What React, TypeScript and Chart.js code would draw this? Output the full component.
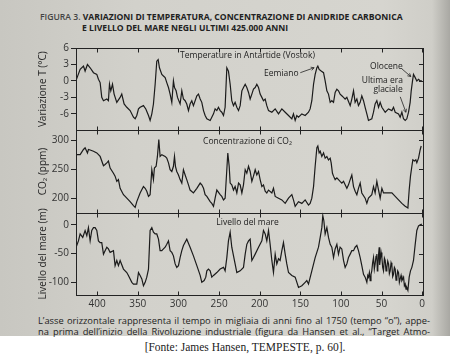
import React, { useEffect, useRef } from "react";
import { Chart, registerables } from "chart.js";
Chart.register(...registerables);

// ---- data (thousands of years before 1750) ----
const xTickValues = [400, 350, 300, 250, 200, 150, 100, 50, 0];
const tempTicks = [-6, -3, 0, 3, 6];
const co2Ticks = [200, 250, 300];
const seaTicks = [-100, -50, 0];

const tempYears = [425.9, 420.9, 416.8, 414.8, 411.9, 408.6, 404.5, 400.4, 398.4, 396.3, 394.3, 392.2, 388.1, 386.1, 384.8, 383.2, 381.1, 379.1, 375.8, 371.7, 369.7, 366.8, 363.5, 359.4, 355.3, 353.2, 351.2, 349.1, 347.1, 343.0, 340.1, 336.8, 334.8, 332.7, 330.7, 328.6, 326.6, 324.9, 323.3, 320.4, 318.4, 316.3, 314.3, 312.2, 310.2, 308.1, 306.1, 304.8, 302.8, 301.1, 297.9, 295.8, 293.8, 291.7, 289.7, 287.6, 285.6, 283.5, 281.5, 277.3, 275.3, 273.2, 271.2, 269.1, 267.1, 265.0, 260.9, 258.9, 256.8, 254.8, 252.7, 250.7, 248.6, 246.6, 244.5, 242.5, 240.4, 238.4, 236.3, 234.3, 232.2, 230.2, 228.1, 226.0, 224.0, 221.9, 219.9, 217.8, 215.8, 213.7, 211.7, 209.6, 207.6, 205.5, 203.5, 201.4, 199.4, 197.3, 195.3, 193.2, 191.2, 189.1, 185.0, 180.9, 176.8, 172.7, 168.6, 164.5, 160.4, 158.4, 156.3, 154.3, 152.2, 148.1, 144.0, 139.9, 137.9, 135.8, 133.7, 131.7, 129.6, 128.4, 126.8, 124.3, 121.4, 119.4, 117.3, 115.3, 113.2, 111.2, 109.1, 107.1, 105.0, 103.0, 101.0, 98.9, 96.8, 94.8, 92.7, 88.6, 86.6, 84.5, 82.5, 80.4, 78.4, 76.3, 74.3, 72.2, 70.2, 68.1, 66.1, 62.0, 59.9, 57.9, 55.8, 53.7, 51.7, 49.6, 45.5, 41.4, 37.3, 35.3, 33.2, 29.1, 27.1, 25.0, 23.0, 20.9, 18.9, 16.8, 14.8, 13.5, 11.9, 10.7, 8.6, 6.6, 4.5, 2.4, 0.4];
const tempValues = [0.1, 2.1, 2.7, 1.8, 3.0, 2.4, 1.5, 1.2, 0.3, -0.3, -3.0, -3.6, -3.3, -3.6, -0.6, -1.8, -0.6, -2.4, -3.9, -3.0, -2.4, -4.2, -4.8, -5.4, -6.6, -6.9, -6.3, -5.1, -4.8, -4.5, -5.1, -6.3, -7.2, -6.0, -4.2, -0.6, 3.6, 3.9, 2.4, 1.2, 0.9, 0.6, -0.3, -1.2, -2.4, -3.9, 0, -1.2, -1.8, -3.0, -4.2, -1.8, -3.3, -3.6, -4.2, -5.4, -4.2, -3.6, -4.5, -2.7, -2.4, -3.3, -3.9, -5.4, -6.3, -6.9, -7.2, -6.6, -6.0, -5.1, -5.4, -4.8, -5.4, -5.7, -6.3, -4.8, 2.4, 1.8, -0.6, -3.6, -4.5, -3.9, -4.8, -5.4, -4.5, -1.8, -1.2, -0.6, -1.2, -2.1, -3.3, -2.4, -1.5, -1.2, -0.6, -1.2, -2.4, -3.0, -3.6, -3.3, -4.5, -5.4, -5.7, -5.1, -6.0, -5.1, -5.7, -6.3, -6.9, -6.0, -7.2, -6.3, -6.6, -6.0, -6.3, -5.7, -5.1, -3.6, -0.6, 1.2, 2.4, 2.7, 2.1, 1.8, 1.5, 0, -1.8, -2.4, -3.9, -3.6, -3.9, -2.1, -1.5, -1.8, -2.4, -2.7, -3.0, -3.3, -3.0, -4.5, -3.3, -1.8, -3.9, -3.3, -4.5, -3.9, -2.7, -3.6, -4.8, -6.0, -7.2, -6.9, -5.7, -4.2, -3.6, -4.8, -3.9, -4.8, -5.7, -5.1, -5.4, -4.8, -5.7, -6.0, -6.6, -5.7, -6.9, -7.2, -6.9, -5.7, -3.9, -1.8, 0, 1.2, 0.6, 0, 0.3, 0, 0];

const co2Years = [425.9, 420.9, 416.8, 414.8, 411.9, 410.7, 408.6, 404.5, 400.4, 396.3, 392.2, 390.2, 388.1, 386.1, 384.0, 379.9, 377.9, 375.8, 373.8, 371.7, 367.6, 365.5, 363.5, 359.4, 355.3, 353.2, 351.2, 347.1, 343.0, 340.9, 338.9, 336.8, 334.8, 332.7, 330.7, 329.5, 327.4, 325.8, 324.1, 322.5, 320.4, 316.3, 314.3, 312.2, 310.2, 308.1, 306.1, 304.8, 303.6, 302.0, 299.9, 297.9, 295.8, 293.8, 291.7, 289.7, 287.6, 285.6, 281.5, 277.3, 273.2, 271.2, 269.1, 267.1, 265.0, 260.9, 258.9, 256.8, 254.8, 252.7, 248.6, 246.6, 244.5, 242.5, 239.2, 237.5, 236.3, 234.3, 232.2, 230.2, 228.1, 226.0, 224.0, 221.9, 219.9, 217.8, 215.8, 213.7, 211.7, 209.6, 207.6, 205.5, 203.5, 201.4, 199.4, 197.3, 195.3, 193.2, 191.2, 189.1, 185.0, 183.0, 180.9, 176.8, 172.7, 168.6, 164.5, 160.4, 158.4, 156.3, 152.2, 148.1, 144.0, 139.9, 137.9, 135.8, 133.7, 131.7, 129.6, 128.4, 126.8, 125.5, 123.5, 121.4, 119.4, 117.3, 115.3, 113.2, 112.0, 110.4, 109.1, 107.1, 105.0, 103.0, 101.0, 98.9, 96.8, 94.8, 92.7, 90.7, 88.6, 86.6, 84.5, 82.5, 80.4, 78.4, 76.3, 74.3, 70.2, 68.1, 66.1, 62.0, 59.9, 57.9, 55.8, 53.7, 51.7, 49.6, 47.6, 45.5, 41.4, 37.3, 33.2, 29.1, 25.0, 20.9, 17.6, 16.0, 14.4, 12.7, 11.5, 9.4, 7.8, 6.6, 4.5, 2.4, 1.2];
const co2Values = [275, 275, 284, 287, 278, 284, 283, 281, 278, 272, 256, 258, 261, 264, 252, 243, 238, 229, 232, 217, 206, 203, 200, 194, 187, 184, 194, 209, 220, 217, 212, 203, 206, 249, 232, 252, 255, 272, 301, 272, 275, 272, 269, 261, 249, 246, 255, 272, 255, 246, 240, 232, 226, 249, 240, 232, 223, 214, 209, 217, 226, 223, 217, 206, 203, 194, 191, 186, 200, 214, 206, 203, 197, 200, 278, 255, 226, 223, 214, 220, 209, 226, 223, 209, 223, 249, 243, 255, 246, 229, 238, 249, 240, 246, 232, 220, 223, 212, 209, 214, 209, 217, 203, 200, 197, 191, 200, 206, 197, 186, 194, 191, 197, 188, 191, 200, 220, 255, 287, 290, 278, 281, 272, 278, 269, 272, 266, 269, 261, 243, 238, 232, 235, 232, 229, 226, 229, 223, 217, 223, 232, 240, 220, 212, 206, 217, 226, 209, 200, 191, 200, 206, 220, 209, 229, 214, 200, 217, 209, 209, 209, 209, 203, 197, 191, 186, 183, 214, 238, 255, 266, 264, 266, 261, 269, 284, 290];

const seaYears = [425.9, 423.0, 420.9, 417.7, 414.8, 412.7, 410.7, 408.6, 406.6, 404.5, 402.5, 400.4, 398.4, 396.3, 394.3, 392.2, 390.2, 388.1, 386.1, 384.0, 379.9, 377.9, 375.8, 373.8, 371.7, 367.6, 363.5, 361.5, 357.3, 355.3, 351.2, 349.1, 347.1, 345.0, 343.0, 340.9, 338.9, 336.8, 334.8, 332.7, 330.7, 328.6, 326.6, 324.5, 322.5, 320.4, 318.4, 316.3, 314.3, 312.2, 310.2, 308.1, 306.1, 304.0, 302.0, 299.9, 297.9, 295.8, 293.8, 289.7, 285.6, 281.5, 277.3, 273.2, 271.2, 268.3, 266.3, 265.0, 263.0, 260.9, 258.9, 256.8, 252.7, 248.6, 244.5, 242.5, 240.4, 238.4, 236.3, 234.3, 230.2, 228.1, 224.0, 219.9, 217.8, 215.8, 213.7, 211.7, 209.6, 207.6, 205.5, 201.4, 197.3, 195.3, 193.2, 191.2, 189.1, 187.1, 185.0, 183.0, 180.9, 178.9, 176.8, 174.8, 172.7, 170.7, 168.6, 166.6, 164.5, 160.4, 156.3, 152.2, 148.1, 144.0, 142.0, 139.9, 135.8, 131.7, 127.6, 125.5, 123.5, 122.3, 121.0, 119.4, 117.3, 115.3, 113.2, 111.2, 109.1, 107.1, 105.0, 103.0, 101.0, 98.9, 96.8, 94.8, 92.7, 90.7, 88.6, 86.6, 84.5, 82.5, 80.4, 78.4, 76.3, 74.3, 72.2, 70.2, 68.1, 67.0, 66.1, 65.0, 64.0, 63.0, 62.0, 61.0, 59.9, 58.9, 57.9, 56.8, 55.8, 55.2, 54.6, 53.7, 52.9, 52.3, 51.7, 50.6, 49.6, 48.6, 47.6, 46.5, 45.5, 44.5, 43.5, 42.4, 41.4, 40.4, 39.4, 38.3, 37.3, 36.3, 35.3, 34.2, 33.2, 32.2, 31.2, 30.1, 29.1, 28.1, 27.1, 26.0, 25.0, 23.9, 22.9, 21.9, 20.9, 19.9, 18.9, 17.6, 16.0, 14.4, 12.7, 10.7, 8.6, 6.6, 4.5, 2.4, 0.4];
const seaValues = [-39, -28, -16, -22, -10, -19, -5, -28, -10, -5, -5, -10, -28, -31, -31, -51, -45, -39, -42, -48, -45, -71, -62, -71, -62, -77, -83, -88, -100, -103, -103, -83, -88, -94, -106, -100, -91, -77, -10, -5, -13, -16, -16, -25, -45, -45, -42, -39, -34, -28, -45, -48, -54, -68, -74, -71, -57, -45, -36, -25, -39, -54, -71, -88, -100, -97, -91, -80, -77, -80, -91, -88, -83, -77, -74, -80, -57, -28, -13, -39, -68, -83, -80, -74, -51, -34, -28, -25, -62, -57, -51, -39, -28, -10, -16, -28, -10, -34, -62, -83, -51, -68, -59, -62, -45, -31, -51, -68, -83, -88, -91, -109, -106, -100, -97, -103, -80, -57, -39, -22, -5, 16, 7, -16, -5, -22, -34, -39, -57, -42, -34, -51, -39, -42, -62, -74, -68, -57, -51, -45, -45, -39, -36, -45, -57, -71, -86, -91, -100, -88, -91, -83, -97, -86, -80, -66, -57, -77, -68, -55, -51, -80, -74, -52, -39, -70, -62, -48, -57, -74, -80, -58, -62, -80, -74, -63, -68, -85, -80, -66, -71, -90, -86, -74, -77, -96, -91, -80, -83, -100, -94, -88, -97, -94, -91, -106, -103, -112, -109, -114, -91, -80, -74, -62, -34, -10, -2, 0, 1];

const toPoints = (xs: number[], ys: number[]) => xs.map((x, i) => ({ x, y: ys[i] }));

const INK = "#232323";
const TICK_FONT = { family: '"Open Sans", sans-serif', size: 10 };

const panels = [
  { id: "temp", ticks: tempTicks },
  { id: "co2", ticks: co2Ticks },
  { id: "sea", ticks: seaTicks },
];

const framePlugin = {
  id: "frame",
  afterDatasetsDraw(chart: any) {
    const ctx = chart.ctx;
    const { left, right } = chart.chartArea;
    const xs = chart.scales.x;
    const line = (x1: number, y1: number, x2: number, y2: number) => {
      ctx.beginPath();
      ctx.moveTo(x1, y1);
      ctx.lineTo(x2, y2);
      ctx.stroke();
    };
    ctx.save();
    ctx.strokeStyle = INK;
    ctx.lineWidth = 1;
    panels.forEach((p) => {
      const s = chart.scales[p.id];
      const top = Math.round(s.top) + 0.5;
      const bottom = Math.round(s.bottom) + 0.5;
      ctx.strokeRect(Math.round(left) + 0.5, top, Math.round(right - left), bottom - top);
      xTickValues.forEach((v) => {
        const px = Math.round(xs.getPixelForValue(v)) + 0.5;
        line(px, top, px, top + 4);
        line(px, bottom, px, bottom - 4);
      });
      p.ticks.forEach((v) => {
        const py = Math.round(s.getPixelForValue(v)) + 0.5;
        line(right, py, right - 4, py);
      });
    });

    // annotations
    const t = chart.scales.temp;
    const c = chart.scales.co2;
    const sl = chart.scales.sea;
    const X = (v: number) => xs.getPixelForValue(v);
    const cx = (left + right) / 2;
    ctx.fillStyle = "#222";
    ctx.textBaseline = "middle";
    ctx.font = '8.5px "Open Sans", sans-serif';
    ctx.textAlign = "center";
    ctx.fillText("Temperature in Antartide (Vostok)", cx - 2, t.top + 8);
    ctx.fillText("Concentrazione di CO\u2082", cx - 2, c.top + 11);
    ctx.fillText("Livello del mare", cx - 2, sl.top + 10);

    ctx.textAlign = "right";
    ctx.fillText("Eemiano", X(152), t.getPixelForValue(1.3));
    ctx.textAlign = "center";
    ctx.fillText("Olocene", X(44), t.getPixelForValue(2.7));
    ctx.fillText("Ultima era", X(49), t.getPixelForValue(0));
    ctx.fillText("glaciale", X(42), t.getPixelForValue(-1.6));

    const arrow = (x1: number, y1: number, x2: number, y2: number) => {
      line(x1, y1, x2, y2);
      const a = Math.atan2(y2 - y1, x2 - x1);
      const h = 3.5;
      ctx.beginPath();
      ctx.moveTo(x2, y2);
      ctx.lineTo(x2 - h * Math.cos(a - 0.5), y2 - h * Math.sin(a - 0.5));
      ctx.moveTo(x2, y2);
      ctx.lineTo(x2 - h * Math.cos(a + 0.5), y2 - h * Math.sin(a + 0.5));
      ctx.stroke();
    };
    ctx.lineWidth = 0.8;
    arrow(X(150), t.getPixelForValue(1.5), X(133), t.getPixelForValue(2.4));
    arrow(X(25), t.getPixelForValue(2.2), X(14), t.getPixelForValue(0.8));
    arrow(X(27), t.getPixelForValue(-2.9), X(20), t.getPixelForValue(-5.7));
    ctx.restore();
  },
};

const yAxis = (id: string, title: string, min: number, max: number, ticks: number[]) => ({
  type: "linear",
  position: "left",
  stack: "panels",
  stackWeight: 1,
  min,
  max,
  afterBuildTicks: (s: any) => {
    s.ticks = ticks.map((v) => ({ value: v }));
  },
  afterFit: (s: any) => {
    s.width = 43;
  },
  grid: { drawOnChartArea: false, drawTicks: true, tickLength: 5, color: INK },
  border: { display: false },
  ticks: { color: "#333", font: TICK_FONT, padding: 2, autoSkip: false },
  title: {
    display: true,
    text: title,
    color: "#2a2a2a",
    font: { family: '"Open Sans", sans-serif', size: 10 },
    padding: { top: 4, bottom: 0 },
  },
});

export default function App() {
  const canvasRef = useRef<HTMLCanvasElement | null>(null);

  useEffect(() => {
    document.body.style.margin = "0";
    const canvas = canvasRef.current;
    if (!canvas) return;
    const ds = (id: string, data: any) => ({
      data,
      yAxisID: id,
      borderColor: "#1b1b1b",
      borderWidth: 1.2,
      pointRadius: 0,
      tension: 0,
      fill: false,
    });
    const chart = new Chart(canvas, {
      type: "line",
      data: {
        datasets: [
          ds("sea", toPoints(seaYears, seaValues)),
          ds("co2", toPoints(co2Years, co2Values)),
          ds("temp", toPoints(tempYears, tempValues)),
        ],
      },
      options: {
        animation: false,
        responsive: false,
        maintainAspectRatio: false,
        devicePixelRatio: 1,
        layout: { padding: { left: 33, right: 27, top: 7, bottom: 0 } },
        plugins: { legend: { display: false }, tooltip: { enabled: false } },
        scales: {
          x: {
            type: "linear",
            reverse: true,
            min: -1,
            max: 426,
            afterBuildTicks: (s: any) => {
              s.ticks = xTickValues.map((v) => ({ value: v }));
            },
            afterFit: (s: any) => {
              s.height = 15;
            },
            grid: { display: false, drawTicks: false, tickLength: 0 },
            border: { display: false },
            ticks: { color: "#333", font: TICK_FONT, padding: 3, maxRotation: 0, autoSkip: false },
          },
          sea: yAxis("sea", "Livello del mare (m)", -122, 21, seaTicks),
          co2: yAxis("co2", "CO\u2082 (ppm)", 175, 317, co2Ticks),
          temp: yAxis("temp", "Variazione T (\u00B0C)", -9, 6, tempTicks),
        },
      } as any,
      plugins: [framePlugin],
    });
    return () => chart.destroy();
  }, []);

  const sans = '"Open Sans", sans-serif';
  return (
    <div style={{ position: "relative", width: 450, height: 362, background: "#fff", overflow: "hidden" }}>
      <div
        style={{
          position: "absolute",
          left: 0,
          top: 0,
          width: 450,
          height: 336,
          background: "linear-gradient(90deg, #c8c7c1 0%, #d2d1cb 30%, #d6d5cf 85%, #cfcec8 96%, #a9a8a3 100%)",
        }}
      />
      <div
        style={{
          position: "absolute",
          left: 40,
          top: 12,
          fontFamily: sans,
          fontSize: 8.6,
          lineHeight: "11px",
          color: "#222",
          whiteSpace: "nowrap",
        }}
      >
        <span style={{ color: "#444", fontWeight: 600 }}>FIGURA 3. </span>
        <b>VARIAZIONI DI TEMPERATURA, CONCENTRAZIONE DI ANIDRIDE CARBONICA</b>
      </div>
      <div
        style={{
          position: "absolute",
          left: 82,
          top: 23,
          fontFamily: sans,
          fontSize: 8.6,
          lineHeight: "11px",
          color: "#222",
          whiteSpace: "nowrap",
          fontWeight: 700,
        }}
      >
        E LIVELLO DEL MARE NEGLI ULTIMI 425.000 ANNI
      </div>
      <canvas ref={canvasRef} width={450} height={270} style={{ position: "absolute", left: 0, top: 40, width: 450, height: 270 }} />
      <div
        style={{
          position: "absolute",
          left: 38,
          top: 315,
          width: 392,
          fontFamily: sans,
          fontSize: 9.3,
          lineHeight: "11px",
          color: "#222",
          textAlign: "justify",
          textAlignLast: "justify" as any,
          whiteSpace: "nowrap",
        }}
      >
        <div>L’asse orizzontale rappresenta il tempo in migliaia di anni fino al 1750 (tempo “o”), appe-</div>
        <div>na prima dell’inizio della Rivoluzione industriale (figura da Hansen et al., “Target Atmo-</div>
      </div>
      <div
        style={{
          position: "absolute",
          left: 0,
          width: 450,
          top: 341,
          textAlign: "center",
          fontFamily: '"Liberation Serif", "DejaVu Serif", serif',
          fontSize: 11.5,
          color: "#222",
          paddingLeft: 40,
          boxSizing: "border-box",
        }}
      >
        [Fonte: James Hansen, TEMPESTE, p. 60].
      </div>
    </div>
  );
}
